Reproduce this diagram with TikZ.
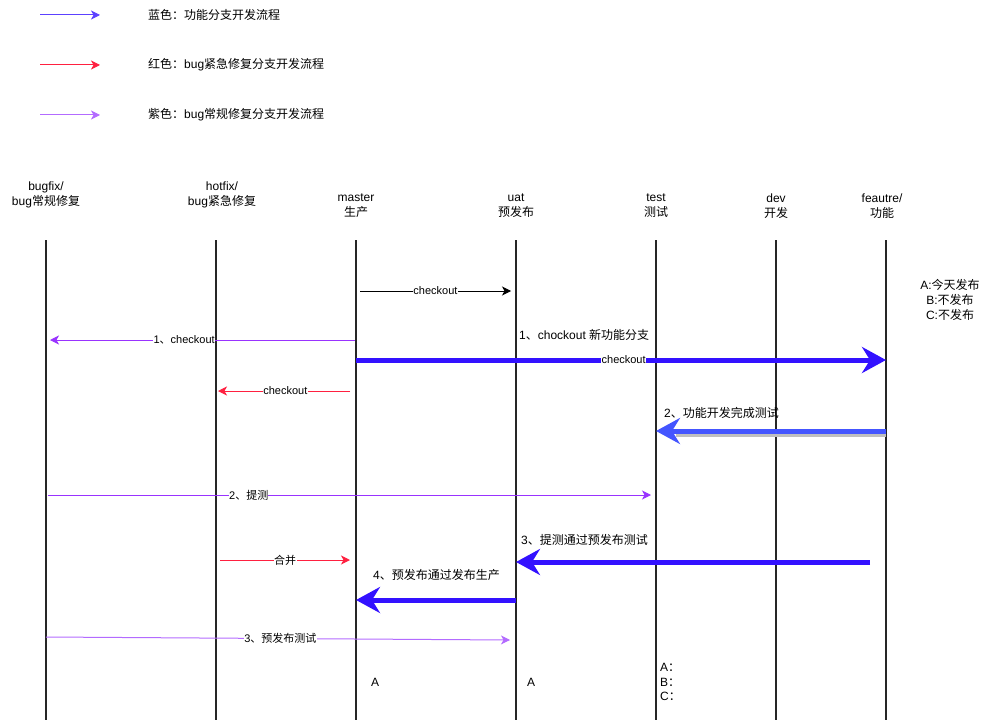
\documentclass[tikz,border=0pt]{standalone}
\usepackage{fontspec}
\setmainfont{Liberation Sans}
\newfontfamily\cjk{Noto Sans CJK SC}
\newcommand{\zh}[1]{{\cjk #1}}
\usetikzlibrary{arrows.meta}
\definecolor{fblue}{HTML}{3311FF}
\definecolor{lblue}{HTML}{4455FF}
\definecolor{bred}{HTML}{FF2040}
\definecolor{bpurple}{HTML}{9933FF}
\definecolor{lpurple}{HTML}{B36BFF}
\tikzset{
  life/.style={line width=1.6pt, draw=black!85},
  hdr/.style={align=center, font=\fontsize{12}{15}\selectfont, inner sep=0pt},
  lbl/.style={font=\fontsize{11}{13}\selectfont, fill=white, text=black, inner sep=0.5pt},
  txt/.style={font=\fontsize{12}{14}\selectfont, inner sep=0pt, anchor=west, text=black},
  thin/.style={line width=1pt, -{Stealth[length=9pt,width=9pt,inset=2.5pt]}},
  thick/.style={line width=5pt, -{Stealth[length=24pt,width=26pt,inset=8pt]}}
}
\begin{document}
\begin{tikzpicture}[x=1pt,y=-1pt]
\useasboundingbox (0,0) rectangle (992,722);
% legend
\coordinate (l1a) at (40,15); \coordinate (l1b) at (100,15);
\coordinate (l2a) at (40,65); \coordinate (l2b) at (100,65);
\coordinate (l3a) at (40,115); \coordinate (l3b) at (100,115);
\draw[thin, fblue!80] (l1a) -- (l1b);
\draw[thin, bred] (l2a) -- (l2b);
\draw[thin, lpurple] (l3a) -- (l3b);
\node[txt] (t1) at (148,15) {\zh{蓝色：功能分支开发流程}};
\node[txt] (t2) at (148,65) {\zh{红色：}bug\zh{紧急修复分支开发流程}};
\node[txt] (t3) at (148,115) {\zh{紫色：}bug\zh{常规修复分支开发流程}};
% headers
\node[hdr] (hbug) at (46,195) {bugfix/\\bug\zh{常规修复}};
\node[hdr] (hhot) at (222,195) {hotfix/\\bug\zh{紧急修复}};
\node[hdr] (hmas) at (356,206) {master\\\zh{生产}};
\node[hdr] (huat) at (516,206) {uat\\\zh{预发布}};
\node[hdr] (htest) at (656,206) {test\\\zh{测试}};
\node[hdr] (hdev) at (776,206) {dev\\\zh{开发}};
\node[hdr] (hfea) at (882,206) {feautre/\\\zh{功能}};
% lifelines
\foreach \n/\x in {bug/46,hot/216,mas/356,uat/516,test/656,dev/776,fea/886}{
  \coordinate (\n top) at (\x,240);
  \coordinate (\n bot) at (\x,720);
  \draw[life] (\n top) -- (\n bot);
}
% notes
\node[align=center, font=\fontsize{12}{15}\selectfont, inner sep=0pt] (note) at (950,300) {A:\zh{今天发布}\\B:\zh{不发布}\\C:\zh{不发布}};
% black checkout
\coordinate (a1) at (360,291); \coordinate (b1) at (511,291);
\draw[thin, black] (a1) -- node[lbl] (c1) {checkout} (b1);
% purple 1 checkout
\coordinate (a2) at (355,340); \coordinate (b2) at (50,340);
\draw[thin, bpurple] (a2) -- node[lbl, pos=0.56] (c2) {1\zh{、}checkout} (b2);
% thick blue checkout
\coordinate (a3) at (356,360); \coordinate (b3) at (886,360);
\draw[thick, fblue] (a3) -- node[lbl, pos=0.505] (c3) {checkout} (b3);
\node[txt] (c3t) at (519,335) {1\zh{、}chockout \zh{新功能分支}};
% red checkout
\coordinate (a4) at (350,391); \coordinate (b4) at (218,391);
\draw[thin, bred] (a4) -- node[lbl, pos=0.49] (c4) {checkout} (b4);
% 2 feature done -> test
\coordinate (a5) at (886,431); \coordinate (b5) at (656,431);
\draw[line width=5pt, black!25, shorten >=20pt] ([yshift=-3pt]a5) -- ([yshift=-3pt]b5);
\draw[thick, lblue] (a5) -- (b5);
\node[txt] (c5) at (664,413) {2\zh{、功能开发完成测试}};
% purple 2 提测
\coordinate (a6) at (48,495); \coordinate (b6) at (651,495);
\draw[thin, bpurple] (a6) -- node[lbl, pos=0.333, inner sep=0pt] (c6) {2\zh{、提测}} (b6);
% 3 blue
\coordinate (a7) at (870,562); \coordinate (b7) at (516,562);
\draw[thick, fblue] (a7) -- (b7);
\node[txt] (c7) at (521,540) {3\zh{、提测通过预发布测试}};
% red merge
\coordinate (a8) at (220,560); \coordinate (b8) at (350,560);
\draw[thin, bred] (a8) -- node[lbl] (c8) {\zh{合并}} (b8);
% 4 blue
\coordinate (a9) at (516,600); \coordinate (b9) at (356,600);
\draw[thick, fblue] (a9) -- (b9);
\node[txt] (c9) at (373,575) {4\zh{、预发布通过发布生产}};
% purple 3 pre-release test
\coordinate (a10) at (46,637); \coordinate (b10) at (510,640);
\draw[thin, lpurple] (a10) -- node[lbl, pos=0.505] (c10) {3\zh{、预发布测试}} (b10);
% A labels
\node[txt] (A1) at (371,682) {A};
\node[txt] (A2) at (527,682) {A};
\node[txt, align=left, font=\fontsize{12}{14.5}\selectfont] (abc) at (660,682) {A\zh{：}\\B\zh{：}\\C\zh{：}};
\end{tikzpicture}
\end{document}
